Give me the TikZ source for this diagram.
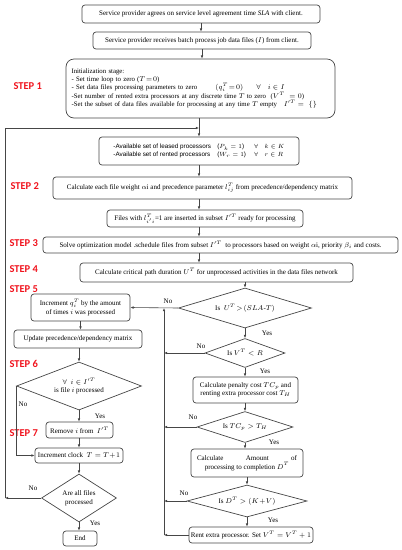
\documentclass[tikz,border=0pt]{standalone}
\usepackage{fontspec}
\setmainfont{Liberation Serif}
\setsansfont{Liberation Sans}
\newfontfamily\stepfont{Carlito}
\usepackage{amsmath,amssymb}
\usetikzlibrary{shapes.geometric,arrows.meta}
\definecolor{stepred}{RGB}{240,20,30}
\definecolor{linegray}{RGB}{70,70,70}

\begin{document}
\begin{tikzpicture}[x=1pt, y=-1pt, >={Latex[length=3.2pt,width=2.6pt]},
    box/.style={draw=linegray, line width=0.7pt, rounded corners=3pt, inner sep=1pt,
        font=\fontsize{7}{8.6}\selectfont, align=center},
    dec/.style={draw=linegray, line width=0.7pt, diamond, aspect=2.5, inner sep=0pt,
        font=\fontsize{7}{8.6}\selectfont, align=center},
    steplabel/.style={text=stepred, font=\stepfont\bfseries\fontsize{10.5}{12}\selectfont, anchor=west},
    lbl/.style={font=\fontsize{7}{7.8}\selectfont, inner sep=0pt},
    flow/.style={->, draw=linegray, line width=0.6pt}]
    \useasboundingbox (0,0) rectangle (402,550);

    % Bloque superior
    \node[box, minimum width=238pt, minimum height=18pt] (sla) at (201,14)
        {Service provider agrees on service level agreement time \textit{SLA} with client.};
    \node[box, minimum width=218pt, minimum height=17pt] (recv) at (202,40.5)
        {Service provider receives batch process job data files ($I$) from client.};
    \node[box, rounded corners=8pt, minimum width=269pt, minimum height=59pt, text width=258pt,
        align=left, font=\fontsize{6.8}{8}\selectfont] (init) at (200.5,88.5)
        {Initialization stage:\\
         - Set time loop to zero ($T\!=\!0$)\\
         \makebox[144pt][l]{- Set data files processing parameters to zero}\makebox[41pt][l]{$(q_i^T\!=\!0)$}$\forall\quad i\in I$\\
         -Set number of rented extra processors at any discrete time $T$ to zero\ \ ($V^T\ =0$)\\
         -Set the subset of data files available for processing at any time $T$ empty\ \ \ $I'^T =\ \{\}$};
    \node[box, minimum width=200pt, minimum height=28pt, font=\sffamily\fontsize{6.3}{8}\selectfont] (avail) at (199,151)
        {\begin{tabular}{@{}l@{\quad}l@{\quad\ }l@{}}
         -Available set of leased processors & ($P_k=1$) & $\forall\quad k\in K$\\
         -Available set of rented processors & ($W_r=1$) & $\forall\quad r\in R$
         \end{tabular}};
    \node[box, minimum width=299pt, minimum height=22pt] (weight) at (202.5,188)
        {Calculate each file weight $\alpha$i and precedence parameter $l_{ij}^{T}$ from precedence/dependency matrix};
    \node[box, minimum width=196pt, minimum height=17pt] (ready) at (205,218.5)
        {Files with $l_{i'i}^{T}$=1 are inserted in subset $I'^T$ ready for processing};
    \node[box, minimum width=355pt, minimum height=16pt] (solve) at (220.5,245)
        {Solve optimization model .schedule files from subset $I'^T$\ \ to processors based on weight $\alpha$i, priority $\beta_i$ and costs.};
    \node[box, minimum width=273pt, minimum height=19pt] (crit) at (216.5,272.5)
        {Calculate critical path duration $U^T$ for unprocessed activities in the data files network};

    % Columna derecha
    \node[dec, minimum width=133pt, minimum height=40pt] (late) at (245,308) {Is\ \ $U^T\!>\!(SLA\text{-}T)$};
    \node[dec, minimum width=80pt, minimum height=29pt] (spare) at (245,353) {Is $V^T < R$};
    \node[box, minimum width=105pt, minimum height=26pt] (penalty) at (245.5,390)
        {Calculate penalty cost $TC_p$ and\\ renting extra processor cost $T_H$};
    \node[dec, minimum width=96pt, minimum height=31pt] (cheaper) at (245,427) {Is $TC_p > T_H$};
    \node[box, minimum width=112pt, minimum height=28pt] (amount) at (247,463)
        {\makebox[100pt][s]{Calculate\hfill Amount\hfill of}\\ processing to completion $D^T$};
    \node[dec, minimum width=120pt, minimum height=32pt] (demand) at (247,501) {Is $D^T > (K\!+\!V)$};
    \node[box, minimum width=124pt, minimum height=16pt] (rent) at (251,535)
        {Rent extra processor. Set $V^T = V^T + 1$};

    % Columna izquierda
    \node[box, minimum width=99pt, minimum height=27pt] (incq) at (80.5,307.5)
        {Increment $q_i^T$ by the amount\\ of times $i$ was processed};
    \node[box, minimum width=128pt, minimum height=18pt] (update) at (78,339)
        {Update precedence/dependency matrix};
    \node[dec, minimum width=125pt, minimum height=48pt] (done) at (79,386)
        {$\forall\ \ i\in I'^T$\\ is file $i$\ processed};
    \node[box, minimum width=67pt, minimum height=16pt] (remove) at (79.5,430)
        {Remove $i$ from\ \ $I'^T$};
    \node[box, minimum width=88pt, minimum height=15pt] (clock) at (79,455.5)
        {Increment clock\ \ $T=T\!+\!1$};
    \node[dec, aspect=2, minimum width=75pt, minimum height=48pt] (alldone) at (79,498)
        {Are all files\\ processed};
    \node[box, minimum width=34pt, minimum height=15pt] (stop) at (80,538.5) {End};

    % Pasos
    \node[steplabel] (s1) at (10,86) {STEP 1};
    \node[steplabel] (s2) at (7,186) {STEP 2};
    \node[steplabel] (s3) at (6,243) {STEP 3};
    \node[steplabel] (s4) at (6,269) {STEP 4};
    \node[steplabel] (s5) at (6,289) {STEP 5};
    \node[steplabel] (s6) at (6,364) {STEP 6};
    \node[steplabel] (s7) at (6,433) {STEP 7};

    % Flechas principales
    \draw[flow] (sla.south) -- (sla.south |- recv.north);
    \draw[flow] (recv.south) -- (recv.south |- init.north);
    \draw[flow] (init.south -| avail.north) -- (avail.north);
    \draw[flow] (avail.south) -- (avail.south |- weight.north);
    \draw[flow] (avail.south |- weight.south) -- (avail.south |- ready.north);
    \draw[flow] (avail.south |- ready.south) -- (avail.south |- solve.north);
    \draw[flow] (avail.south |- solve.south) -- (avail.south |- crit.north);
    \draw[flow] (crit.south -| late.north) -- (late.north);
    \draw[flow] (late.south) -- (spare.north);
    \draw[flow] (spare.south) -- (spare.south |- penalty.north);
    \draw[flow] (penalty.south -| cheaper.north) -- (cheaper.north);
    \draw[flow] (cheaper.south) -- (cheaper.south |- amount.north);
    \draw[flow] (amount.south -| demand.north) -- (demand.north);
    \draw[flow] (demand.south) -- (demand.south |- rent.north);
    \draw[flow] (late.west) -- (incq.east);
    \draw[flow] (incq.south) -- (incq.south |- update.north);
    \draw[flow] (update.south -| done.north) -- (done.north);
    \draw[flow] (done.south) -- (done.south |- remove.north);
    \draw[flow] (done.south |- remove.south) -- (done.south |- clock.north);
    \draw[flow] (clock.south -| alldone.north) -- (alldone.north);
    \draw[flow] (alldone.south) -- (alldone.south |- stop.north);
    \draw[flow] (done.west) |- (clock.west);

    % Retornos
    \coordinate (rx) at (164,0);
    \coordinate (lx) at (5,0);
    \coordinate (jtop) at (199,128);
    \draw[flow] (spare.west) -- (spare.west -| rx);
    \draw[flow] (cheaper.west) -- (cheaper.west -| rx);
    \draw[flow] (demand.west) -- (demand.west -| rx);
    \draw[flow] (rent.west) -- (rent.west -| rx);
    \draw[flow] (rent.west -| rx) -- (late.west -| rx);
    \draw[flow] (alldone.west) -- (alldone.west -| lx);
    \draw[flow] (alldone.west -| lx) -- (lx |- jtop) -- (jtop);

    % Etiquetas Si/No
    \node[lbl] (n1) at (168,301) {No};
    \node[lbl] (y1) at (267,333) {Yes};
    \node[lbl] (n2) at (201,346) {No};
    \node[lbl] (y2) at (265,371) {Yes};
    \node[lbl] (n3) at (193,417) {No};
    \node[lbl] (y3) at (274,442) {Yes};
    \node[lbl] (n4) at (184,493) {No};
    \node[lbl] (y4) at (273,520) {Yes};
    \node[lbl] (n5) at (23,404) {No};
    \node[lbl] (y5) at (100,416) {Yes};
    \node[lbl] (n6) at (33,488) {No};
    \node[lbl] (y6) at (95,523) {Yes};
\end{tikzpicture}
\end{document}
